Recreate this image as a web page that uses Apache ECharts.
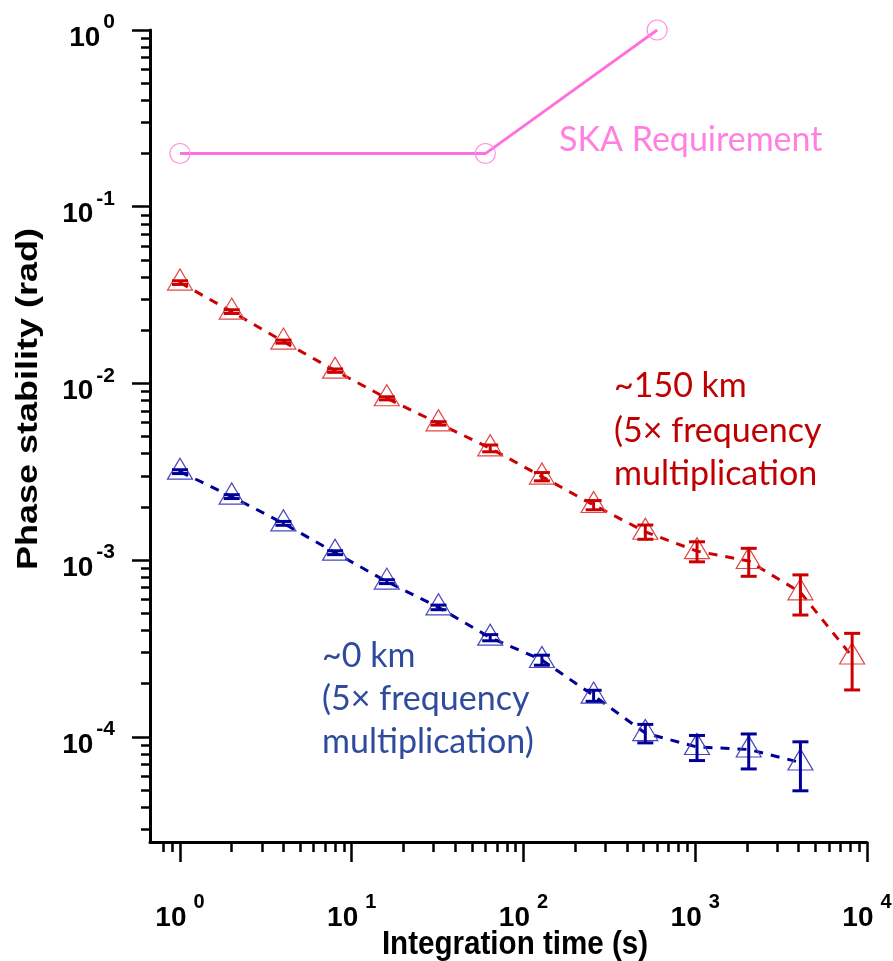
<!DOCTYPE html>
<html>
<head>
<meta charset="utf-8">
<title>Phase stability vs integration time</title>
<script src="https://cdn.jsdelivr.net/npm/echarts@6/dist/echarts.min.js"></script>
<style>
  html, body { margin: 0; padding: 0; background: #ffffff; }
  #chart { width: 893px; height: 961px; }
</style>
</head>
<body>
<div id="chart"></div>
<script>
// Integration times (s) for the ~150 km link
const timesLong = [1, 2, 4, 8, 16, 32, 64, 128, 256, 512, 1024, 2048, 4096, 8192];
// Phase stability (rad), ~150 km link
const stabilityLong = [0.0372, 0.02549, 0.01724, 0.01181, 0.008236, 0.005943, 0.004292,
  0.00297, 0.00205, 0.001446, 0.001124, 0.000988, 0.000657, 0.0002847];
// One-sigma error (rad), ~150 km link
const errorLong = [0.000893, 0.000612, 0.000345, 0.00026, 0.000165, 0.000131, 0.000189,
  0.00016, 0.000123, 0.000134, 0.000146, 0.000178, 0.000168, 0.0001005];

// Integration times (s) for the ~0 km link
const timesShort = [1, 2, 4, 8, 16, 32, 64, 128, 256, 512, 1024, 2048, 4096];
// Phase stability (rad), ~0 km link
const stabilityShort = [0.003168, 0.002288, 0.001615, 0.001102, 0.0007556, 0.0005404, 0.0003642,
  0.000272, 0.0001711, 0.000105, 0.0000876, 0.0000848, 0.0000716];
// One-sigma error (rad), ~0 km link
const errorShort = [0.0000792, 0.0000572, 0.0000404, 0.0000276, 0.0000189, 0.0000162, 0.0000146,
  0.0000177, 0.0000123, 0.0000126, 0.0000142, 0.000019, 0.0000221];

// SKA requirement envelope
const skaTimes = [1, 60, 600];
const skaStability = [0.2, 0.2, 1];

// Axis ranges (raw units) and decade exponents that get labels
const xRange = [0.669, 10000];
const yRange = [2.54e-5, 1];
const xDecades = [0, 1, 2, 3, 4];
const yDecades = [-4, -3, -2, -1, 0];

// Both axes are logarithmic: values are plotted as log10 on linear value axes
const lg = Math.log10;
const xMin = lg(xRange[0]), xMax = lg(xRange[1]);
const yMin = lg(yRange[0]), yMax = lg(yRange[1]);

// Minor ticks at 2..9 x 10^n inside each axis range (skip ones that would sit on the other axis line)
function minorTicks(lo, hi) {
  const out = [];
  for (let e = Math.floor(lo); e < Math.ceil(hi); e++) {
    for (let k = 2; k <= 9; k++) {
      const v = e + lg(k);
      if (v > lo + 0.05 && v < hi) out.push(v);
    }
  }
  return out;
}

const toPoints = (xs, ys) => xs.map((t, i) => [lg(t), lg(ys[i])]);
const toBars = (xs, ys, es) => xs.map((t, i) => [lg(t), lg(ys[i] - es[i]), lg(ys[i] + es[i])]);

function errorBarItem(params, api) {
  const x = api.value(0);
  const top = api.coord([x, api.value(2)]);
  const bot = api.coord([x, api.value(1)]);
  const half = 8;
  const style = { stroke: api.visual('color'), lineWidth: 3 };
  return {
    type: 'group',
    children: [
      { type: 'line', shape: { x1: top[0], y1: top[1], x2: bot[0], y2: bot[1] }, style: style },
      { type: 'line', shape: { x1: top[0] - half, y1: top[1], x2: top[0] + half, y2: top[1] }, style: style },
      { type: 'line', shape: { x1: bot[0] - half, y1: bot[1], x2: bot[0] + half, y2: bot[1] }, style: style }
    ]
  };
}

const tickFont = "'Liberation Sans', Arial, sans-serif";
const noteFont = "Lato, 'Open Sans', sans-serif";

const chart = echarts.init(document.getElementById('chart'), null, { renderer: 'canvas' });

chart.setOption({
  animation: false,
  backgroundColor: '#ffffff',
  grid: { left: 150, right: 26, top: 30, bottom: 119, containLabel: false, outerBoundsMode: 'none' },
  xAxis: [
    {
      type: 'value', min: xMin, max: xMax, position: 'bottom',
      axisLine: { show: true, onZero: false, lineStyle: { color: '#000', width: 3 } },
      axisTick: { show: true, customValues: xDecades, length: 20, lineStyle: { color: '#000', width: 2.5 } },
      axisLabel: {
        customValues: xDecades,
        margin: 50,
        formatter: v => '{b|10}{s|' + Math.round(v) + '}',
        rich: {
          b: { fontSize: 28, fontWeight: 'bold', fontFamily: tickFont, color: '#000' },
          s: { fontSize: 20, fontWeight: 'bold', fontFamily: tickFont, color: '#000', padding: [0, 0, 32, 7] }
        }
      },
      splitLine: { show: false }
    },
    {
      type: 'value', min: xMin, max: xMax, position: 'bottom',
      axisLine: { show: false, onZero: false },
      axisTick: { show: true, customValues: minorTicks(xMin, xMax), length: 10, lineStyle: { color: '#000', width: 2.5 } },
      axisLabel: { show: false },
      splitLine: { show: false }
    }
  ],
  yAxis: [
    {
      type: 'value', min: yMin, max: yMax, position: 'left',
      axisLine: { show: true, onZero: false, lineStyle: { color: '#000', width: 3 } },
      axisTick: { show: true, customValues: yDecades, length: 18, lineStyle: { color: '#000', width: 2.5 } },
      axisLabel: {
        customValues: yDecades,
        margin: 35,
        padding: [16, 0, 0, 0],
        formatter: v => '{b|10}{s|' + Math.round(v) + '}',
        rich: {
          b: { fontSize: 28, fontWeight: 'bold', fontFamily: tickFont, color: '#000' },
          s: { fontSize: 21, fontWeight: 'bold', fontFamily: tickFont, color: '#000', padding: [0, 0, 31, 3] }
        }
      },
      splitLine: { show: false }
    },
    {
      type: 'value', min: yMin, max: yMax, position: 'left',
      axisLine: { show: false, onZero: false },
      axisTick: { show: true, customValues: minorTicks(yMin, yMax), length: 9, lineStyle: { color: '#000', width: 2.5 } },
      axisLabel: { show: false },
      splitLine: { show: false }
    }
  ],
  series: [
    {
      name: 'SKA Requirement',
      type: 'line',
      data: toPoints(skaTimes, skaStability),
      symbol: 'circle',
      symbolSize: 20,
      itemStyle: { color: 'rgba(255,255,255,0)', borderColor: '#ff8ee4', borderWidth: 1.2 },
      lineStyle: { color: '#ff70dc', width: 2.8 },
      z: 3
    },
    {
      name: '~150 km',
      type: 'line',
      data: toPoints(timesLong, stabilityLong),
      symbol: 'triangle',
      symbolSize: [25, 21],
      symbolOffset: [0, -3],
      itemStyle: { color: 'rgba(255,255,255,0)', borderColor: '#e04848', borderWidth: 1.2 },
      lineStyle: { color: '#cc0000', width: 3, type: [9, 8] },
      z: 3
    },
    {
      name: '~150 km error',
      type: 'custom',
      renderItem: errorBarItem,
      data: toBars(timesLong, stabilityLong, errorLong),
      encode: { x: 0, y: [1, 2] },
      itemStyle: { color: '#cc0000' },
      z: 4
    },
    {
      name: '~0 km',
      type: 'line',
      data: toPoints(timesShort, stabilityShort),
      symbol: 'triangle',
      symbolSize: [25, 21],
      symbolOffset: [0, -3],
      itemStyle: { color: 'rgba(255,255,255,0)', borderColor: '#4848bc', borderWidth: 1.2 },
      lineStyle: { color: '#000099', width: 3, type: [9, 8] },
      z: 3
    },
    {
      name: '~0 km error',
      type: 'custom',
      renderItem: errorBarItem,
      data: toBars(timesShort, stabilityShort, errorShort),
      encode: { x: 0, y: [1, 2] },
      itemStyle: { color: '#000099' },
      z: 4
    }
  ],
  graphic: [
    // axis titles
    { type: 'text', x: 515, y: 945, scaleX: 0.87,
      style: { text: 'Integration time (s)', font: 'bold 34px ' + tickFont, fill: '#000', align: 'center', verticalAlign: 'middle' } },
    { type: 'text', x: 29, y: 399, rotation: Math.PI / 2, scaleX: 1.2,
      style: { text: 'Phase stability (rad)', font: 'bold 30px ' + tickFont, fill: '#000', align: 'center', verticalAlign: 'middle' } },
    // annotations
    { type: 'text', x: 559, y: 140, style: { text: 'SKA Requirement', font: '34px ' + noteFont, fill: '#ff80e0', verticalAlign: 'middle' } },
    { type: 'text', x: 614, y: 386, style: { text: '~150 km', font: '34px ' + noteFont, fill: '#c00000', verticalAlign: 'middle' } },
    { type: 'text', x: 614, y: 431, style: { text: '(5\u00d7 frequency', font: '34px ' + noteFont, fill: '#c00000', verticalAlign: 'middle' } },
    { type: 'text', x: 614, y: 474, style: { text: 'multiplication', font: '34px ' + noteFont, fill: '#c00000', verticalAlign: 'middle' } },
    { type: 'text', x: 322, y: 656, style: { text: '~0 km', font: '34px ' + noteFont, fill: '#2f4b9e', verticalAlign: 'middle' } },
    { type: 'text', x: 322, y: 699, style: { text: '(5\u00d7 frequency', font: '34px ' + noteFont, fill: '#2f4b9e', verticalAlign: 'middle' } },
    { type: 'text', x: 322, y: 742, style: { text: 'multiplication)', font: '34px ' + noteFont, fill: '#2f4b9e', verticalAlign: 'middle' } }
  ]
});
</script>
</body>
</html>
